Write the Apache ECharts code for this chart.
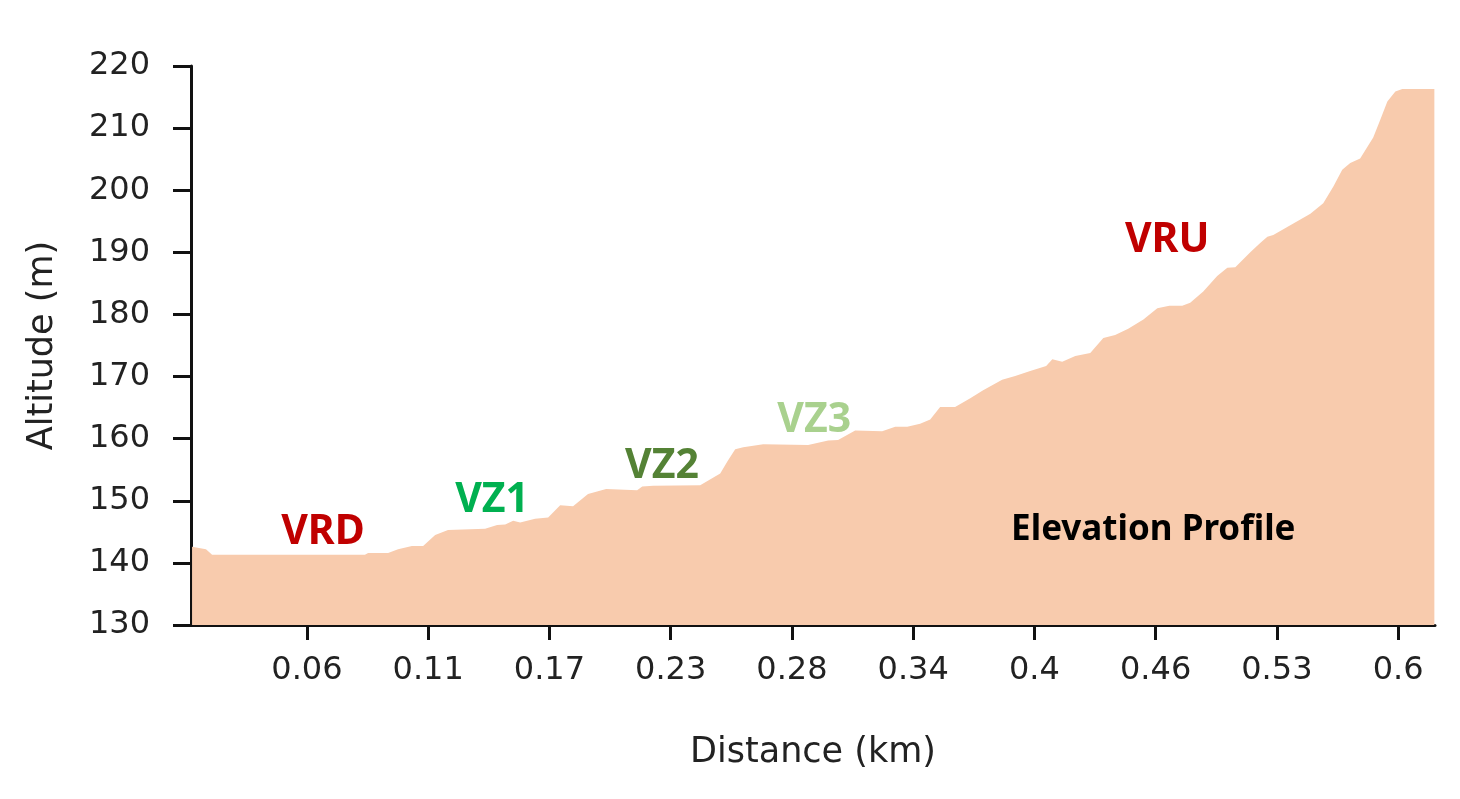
<!DOCTYPE html>
<html>
<head>
<meta charset="utf-8">
<script src="https://cdn.jsdelivr.net/npm/echarts@6/dist/echarts.min.js"></script>
<style>
  html, body { margin: 0; padding: 0; background: #fff; }
  #chart { width: 1460px; height: 799px; }
</style>
</head>
<body>
<div id="chart"></div>
<script>
// profile samples: distance (km) and altitude (m)
const distances = [0.0030, 0.0096, 0.0125, 0.0850, 0.0865, 0.0960, 0.1007, 0.1073, 0.1126, 0.1183,
  0.1244, 0.1420, 0.1477, 0.1515, 0.1553, 0.1586, 0.1657, 0.1719, 0.1776, 0.1837,
  0.1908, 0.1951, 0.1994, 0.2141, 0.2165, 0.2217, 0.2440, 0.2535, 0.2568, 0.2606,
  0.2644, 0.2739, 0.2952, 0.3047, 0.3094, 0.3175, 0.3303, 0.3365, 0.3422, 0.3483,
  0.3531, 0.3578, 0.3649, 0.3721, 0.3782, 0.3872, 0.3934, 0.4005, 0.4081, 0.4110,
  0.4157, 0.4219, 0.4290, 0.4352, 0.4408, 0.4470, 0.4542, 0.4608, 0.4665, 0.4726,
  0.4764, 0.4826, 0.4892, 0.4940, 0.4978, 0.5049, 0.5096, 0.5130, 0.5158, 0.5334,
  0.5395, 0.5443, 0.5485, 0.5523, 0.5570, 0.5632, 0.5665, 0.5699, 0.5737, 0.5770,
  0.5922];
const altitudes = [142.6, 142.2, 141.3, 141.3, 141.6, 141.6, 142.2, 142.7, 142.7, 144.5,
  145.3, 145.5, 146.1, 146.2, 146.8, 146.5, 147.1, 147.3, 149.3, 149.1,
  151.1, 151.5, 151.9, 151.7, 152.3, 152.4, 152.5, 154.4, 156.3, 158.3,
  158.6, 159.1, 159.0, 159.7, 159.8, 161.3, 161.2, 161.9, 161.9, 162.4,
  163.1, 165.1, 165.1, 166.5, 167.8, 169.5, 170.1, 170.9, 171.7, 172.8,
  172.4, 173.3, 173.8, 176.2, 176.7, 177.7, 179.2, 181.0, 181.4, 181.4,
  181.9, 183.7, 186.2, 187.5, 187.6, 190.0, 191.5, 192.5, 192.8, 196.2,
  197.9, 200.6, 203.3, 204.4, 205.1, 208.5, 211.3, 214.3, 215.9, 216.3,
  216.3];

// x axis ticks (evenly spaced) and the labels printed under them
const tickValues = [0.0575, 0.115, 0.1725, 0.23, 0.2875, 0.345, 0.4025, 0.46, 0.5175, 0.575];
const tickLabels = ['0.06', '0.11', '0.17', '0.23', '0.28', '0.34', '0.4', '0.46', '0.53', '0.6'];

// segment annotations
const noteNames = ['VRD', 'VZ1', 'VZ2', 'VZ3', 'VRU'];
const noteDist = [0.0651, 0.1453, 0.2259, 0.2981, 0.4655];
const noteAlt = [145.0, 150.1, 155.6, 162.9, 192.0];
const noteColors = ['#C00000', '#00B050', '#548235', '#A9D18E', '#C00000'];

const chart = echarts.init(document.getElementById('chart'));

const axisFont = 'DejaVu Sans';

chart.setOption({
  animation: false,
  backgroundColor: '#fff',
  grid: { left: 191, right: 25, top: 66, bottom: 174 },
  xAxis: {
    type: 'value',
    min: 0.0025,
    max: 0.5925,
    name: 'Distance (km)',
    nameLocation: 'middle',
    nameGap: 110,
    nameTextStyle: { fontFamily: axisFont, fontSize: 35, color: '#222' },
    axisLine: { show: true, lineStyle: { color: '#111', width: 3 } },
    axisTick: { show: true, length: 15, customValues: tickValues, lineStyle: { color: '#111', width: 3 } },
    axisLabel: {
      customValues: tickValues,
      margin: 30,
      fontFamily: axisFont,
      fontSize: 32,
      color: '#222',
      formatter: (v) => {
        let best = 0;
        tickValues.forEach((t, i) => { if (Math.abs(t - v) < Math.abs(tickValues[best] - v)) best = i; });
        return tickLabels[best];
      }
    },
    splitLine: { show: false }
  },
  yAxis: {
    type: 'value',
    min: 130,
    max: 220,
    interval: 10,
    name: 'Altitude (m)',
    nameLocation: 'middle',
    nameGap: 131,
    nameTextStyle: { fontFamily: axisFont, fontSize: 35, color: '#222' },
    axisLine: { show: true, lineStyle: { color: '#111', width: 3 } },
    axisTick: { show: true, length: 18, lineStyle: { color: '#111', width: 3 } },
    axisLabel: { margin: 41, fontFamily: axisFont, fontSize: 32, color: '#222' },
    splitLine: { show: false }
  },
  series: [
    {
      type: 'line',
      data: distances.map((d, i) => [d, altitudes[i]]),
      symbol: 'none',
      lineStyle: { width: 0 },
      itemStyle: { color: '#F8CBAD' },
      areaStyle: { color: '#F8CBAD', opacity: 1 },
      silent: true,
      z: 1
    },
    {
      type: 'scatter',
      symbolSize: 0,
      silent: true,
      z: 5,
      itemStyle: { opacity: 1 },
      data: noteNames.map((n, i) => ({
        value: [noteDist[i], noteAlt[i]],
        label: {
          show: true,
          position: 'inside',
          formatter: n,
          fontFamily: 'Noto Sans',
          fontWeight: 'bold',
          fontSize: 41,
          color: noteColors[i]
        }
      }))
    },
    {
      type: 'scatter',
      symbolSize: 0,
      silent: true,
      z: 5,
      itemStyle: { opacity: 1 },
      data: [{
        value: [0.4589, 145.3],
        label: {
          show: true,
          position: 'inside',
          formatter: 'Elevation Profile',
          fontFamily: 'Noto Sans',
          fontWeight: 'bold',
          fontSize: 35,
          color: '#000'
        }
      }]
    }
  ]
});
</script>
</body>
</html>
